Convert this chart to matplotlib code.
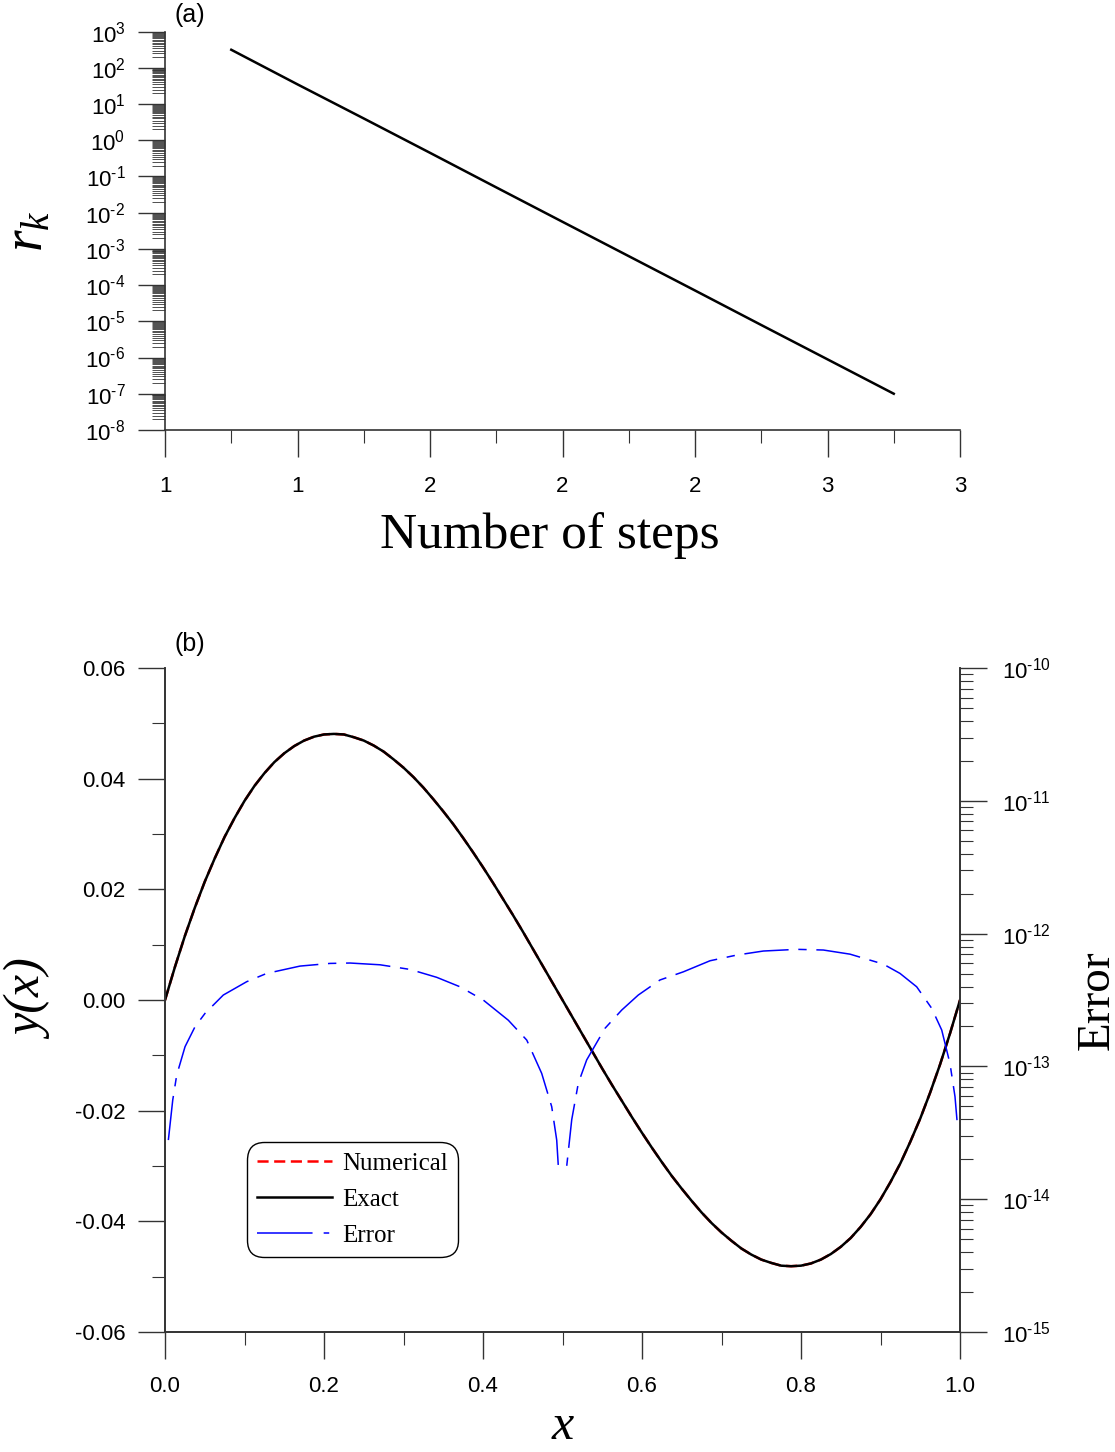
import numpy as np
import matplotlib
matplotlib.use("Agg")
import matplotlib.pyplot as plt
from matplotlib.ticker import (LogLocator, FixedLocator, FormatStrFormatter, FuncFormatter,
                               MultipleLocator, NullFormatter, AutoMinorLocator)
from matplotlib.lines import Line2D

plt.rcParams['font.family'] = ['Liberation Sans', 'DejaVu Sans']
plt.rcParams['mathtext.fontset'] = 'custom'
plt.rcParams['mathtext.rm'] = 'Liberation Sans'
plt.rcParams['mathtext.it'] = 'Liberation Serif:italic'
plt.rcParams['lines.scale_dashes'] = False
plt.rcParams['axes.unicode_minus'] = False

# ---- panel (a) data: residual vs number of steps
steps = [1.1667, 1.3333, 1.5, 1.6667, 1.8333, 2.0, 2.1667, 2.3333, 2.5, 2.6667, 2.8333]
rk = [3.16e2, 3.5e1, 4.0e0, 4.5e-1, 5.0e-2, 5.6e-3, 6.3e-4, 7.1e-5, 7.9e-6, 8.9e-7, 1.0e-7]

# ---- panel (b) data: solution y(x), read every 0.0125 in x
y_exact = [0.0, 0.0060, 0.0116, 0.0167, 0.0214, 0.0256, 0.0295, 0.0329, 0.0360, 0.0387,
           0.0410, 0.0430, 0.0446, 0.0459, 0.0469, 0.0476, 0.0480, 0.0481, 0.0480, 0.0475,
           0.0469, 0.0460, 0.0449, 0.0435, 0.0420, 0.0403, 0.0384, 0.0363, 0.0341, 0.0318,
           0.0293, 0.0267, 0.0240, 0.0212, 0.0183, 0.0154, 0.0124, 0.0093, 0.0062, 0.0031,
           0.0,
           -0.0031, -0.0062, -0.0093, -0.0124, -0.0154, -0.0183, -0.0212, -0.0240, -0.0267, -0.0293,
           -0.0318, -0.0341, -0.0363, -0.0384, -0.0403, -0.0420, -0.0435, -0.0449, -0.0460, -0.0469,
           -0.0475, -0.0480, -0.0481, -0.0480, -0.0476, -0.0469, -0.0459, -0.0446, -0.0430, -0.0410,
           -0.0387, -0.0360, -0.0329, -0.0295, -0.0256, -0.0214, -0.0167, -0.0116, -0.0060, 0.0]
y_num = y_exact
x_sol = np.linspace(0, 1, len(y_exact))

# ---- panel (b) data: absolute error
x_err = [0.0042, 0.0097, 0.0147, 0.0252, 0.0377, 0.0503, 0.0733, 0.1028, 0.1279, 0.1698,
         0.2075, 0.2327, 0.2704, 0.3082, 0.3418, 0.3711, 0.4004, 0.4318, 0.4550, 0.4738,
         0.4864, 0.4927, 0.4947, 0.5053, 0.5116, 0.5199, 0.5304, 0.5535, 0.5745, 0.5953,
         0.6226, 0.6520, 0.6855, 0.7191, 0.7526, 0.7946, 0.8281, 0.8616, 0.9035, 0.9245,
         0.9455, 0.9644, 0.9770, 0.9874, 0.9937, 0.9962]
err = [2.79e-14, 5.58e-14, 8.61e-14, 1.41e-13, 1.99e-13, 2.51e-13, 3.45e-13, 4.35e-13, 5.02e-13, 5.70e-13,
       5.97e-13, 6.01e-13, 5.83e-13, 5.38e-13, 4.69e-13, 3.98e-13, 3.16e-13, 2.23e-13, 1.58e-13, 8.87e-14,
       4.98e-14, 2.79e-14, 1.78e-14, 1.78e-14, 3.98e-14, 7.50e-14, 1.12e-13, 1.94e-13, 2.66e-13, 3.45e-13,
       4.48e-13, 5.16e-13, 6.25e-13, 6.90e-13, 7.40e-13, 7.62e-13, 7.53e-13, 7.01e-13, 5.90e-13, 5.02e-13,
       3.98e-13, 2.74e-13, 1.88e-13, 1.05e-13, 5.92e-14, 3.94e-14]

err_dashes = (32, 7, 6, 7)

fig = plt.figure(figsize=(11.15, 14.52), dpi=100)


def pow10_label(v, pos):
    e = int(round(np.log10(v)))
    if e < 0:
        return r'$\mathregular{10^{\text{-}%d}}$' % (-e)
    return r'$\mathregular{10^{%d}}$' % e


def style_ticks(ax, which_axes):
    ax.tick_params(axis=which_axes, which='major', direction='out', length=19.5,
                   width=1.0, labelsize=16, color='#333333')
    ax.tick_params(axis=which_axes, which='minor', direction='out', length=9.5,
                   width=0.8, color='#333333')


# ---------------- panel (a)
ax1 = fig.add_axes([0.148, 0.7039, 0.713, 0.2743])
ax1.plot(steps, rk, color='black', lw=1.8)
ax1.set_yscale('log')
ax1.set_xlim(1, 3)
ax1.set_ylim(1e-8, 1e3)
ax1.xaxis.set_major_locator(FixedLocator(np.linspace(1, 3, 7)))
ax1.xaxis.set_major_formatter(FormatStrFormatter('%.0f'))
ax1.xaxis.set_minor_locator(AutoMinorLocator(2))
ax1.yaxis.set_major_locator(LogLocator(base=10, numticks=20))
ax1.yaxis.set_major_formatter(FuncFormatter(pow10_label))
ax1.yaxis.set_minor_locator(LogLocator(base=10, subs=np.arange(2, 10, 0.5), numticks=200))
ax1.yaxis.set_minor_formatter(NullFormatter())
for s in ['top', 'right']:
    ax1.spines[s].set_visible(False)
for s in ['left', 'bottom']:
    ax1.spines[s].set_linewidth(1.2)
    ax1.spines[s].set_color('#333333')
style_ticks(ax1, 'both')
ax1.tick_params(axis='y', which='minor', width=0.6)
ax1.tick_params(axis='x', which='major', pad=14)
ax1.tick_params(axis='y', which='major', pad=9)
ax1.set_xlabel('Number of steps', family='Liberation Serif', fontsize=37)
ax1.xaxis.set_label_coords(0.484, -0.205)
ax1.set_ylabel('$r_k$', fontsize=40)
ax1.yaxis.set_label_coords(-0.14, 0.5)
fig.text(0.170, 0.990, '(a)', fontsize=18, ha='center', va='center')

# ---------------- panel (b)
ax2 = fig.add_axes([0.148, 0.0826, 0.713, 0.4573])
ln_num, = ax2.plot(x_sol, y_num, color='red', lw=1.8, ls=(0, (8, 4)), label='Numerical')
ln_ex, = ax2.plot(x_sol, y_exact, color='black', lw=1.8, label='Exact')
ax2.set_xlim(0, 1)
ax2.set_ylim(-0.06, 0.06)
ax2.xaxis.set_major_locator(MultipleLocator(0.2))
ax2.xaxis.set_minor_locator(MultipleLocator(0.1))
ax2.xaxis.set_major_formatter(FormatStrFormatter('%.1f'))
ax2.yaxis.set_major_locator(MultipleLocator(0.02))
ax2.yaxis.set_minor_locator(MultipleLocator(0.01))
ax2.yaxis.set_major_formatter(FormatStrFormatter('%.2f'))
ax2.spines['top'].set_visible(False)
style_ticks(ax2, 'both')
ax2.tick_params(axis='x', which='major', pad=12)
ax2.tick_params(axis='y', which='major', pad=9)
ax2.set_xlabel('x', family='Liberation Serif', style='italic', fontsize=36)
ax2.xaxis.set_label_coords(0.5, -0.108)
ax2.set_ylabel('y(x)', family='Liberation Serif', style='italic', fontsize=36)
ax2.yaxis.set_label_coords(-0.14, 0.5)

ax3 = ax2.twinx()
ln_err, = ax3.plot(x_err, err, color='blue', lw=1.1, dashes=err_dashes, label='Error')
ax3.set_yscale('log')
ax3.set_ylim(1e-15, 1e-10)
ax3.yaxis.set_major_locator(LogLocator(base=10, numticks=20))
ax3.yaxis.set_major_formatter(FuncFormatter(pow10_label))
ax3.yaxis.set_minor_locator(LogLocator(base=10, subs=np.arange(2, 10), numticks=200))
ax3.yaxis.set_minor_formatter(NullFormatter())
ax3.spines['top'].set_visible(False)
for ax in (ax2, ax3):
    for s in ['left', 'bottom', 'right']:
        ax.spines[s].set_linewidth(1.2)
        ax.spines[s].set_color('#333333')
style_ticks(ax3, 'y')
ax3.tick_params(axis='y', which='major', pad=11)
ax3.set_ylabel('Error', family='Liberation Serif', fontsize=34)
ax3.yaxis.set_label_coords(1.146, 0.5)
fig.text(0.170, 0.5565, '(b)', fontsize=18, ha='center', va='center')

leg_handles = [Line2D([], [], color='red', lw=1.8, ls=(0, (8, 4))),
               Line2D([], [], color='black', lw=1.8),
               Line2D([], [], color='blue', lw=1.1, dashes=(40, 8, 4, 8))]
leg = ax3.legend(leg_handles, ['Numerical', 'Exact', 'Error'],
                 loc='upper left', bbox_to_anchor=(0.103, 0.286),
                 prop={'family': 'Liberation Serif', 'size': 18},
                 handlelength=3.0, handletextpad=0.4, labelspacing=0.55,
                 borderpad=0.4, borderaxespad=0, fancybox=True, framealpha=1)
leg.get_frame().set_edgecolor('black')
leg.get_frame().set_linewidth(1.0)
leg.get_frame().set_boxstyle('round', pad=0.0, rounding_size=0.7)

fig.savefig('out.png', dpi=100)
